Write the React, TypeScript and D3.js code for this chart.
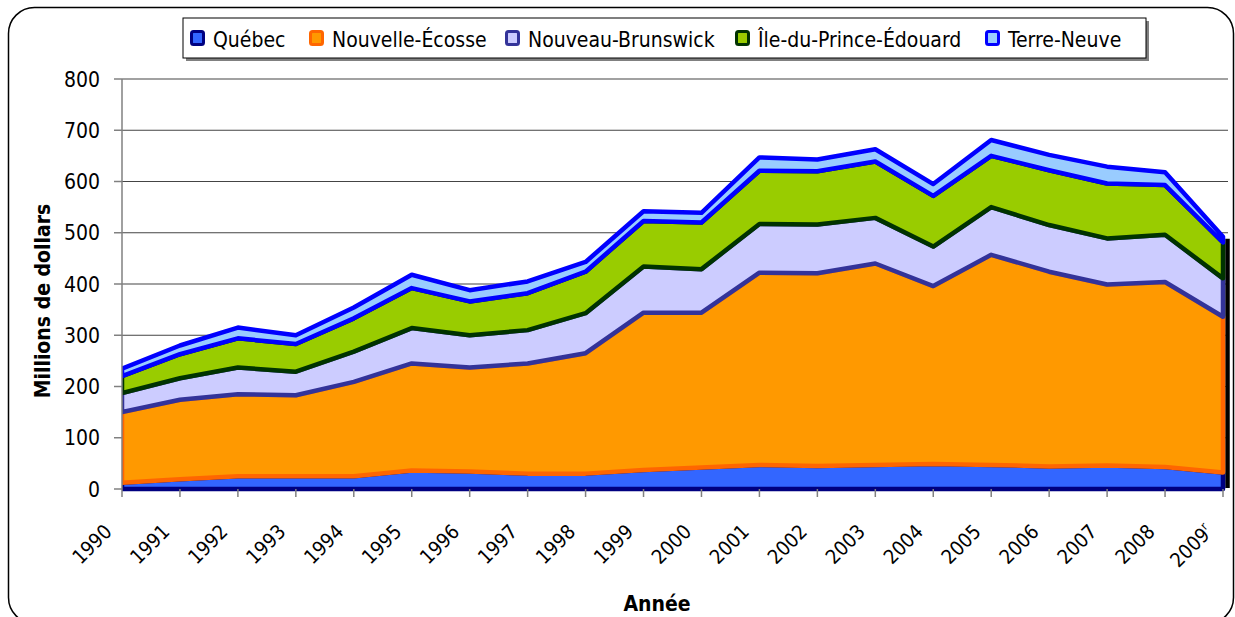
import React from 'react';
import * as d3 from 'd3';

const years = ['1990','1991','1992','1993','1994','1995','1996','1997','1998','1999','2000','2001','2002','2003','2004','2005','2006','2007','2008','2009'];
const yearLabels = ['1990','1991','1992','1993','1994','1995','1996','1997','1998','1999','2000','2001','2002','2003','2004','2005','2006','2007','2008','2009r'];
const quebec = [12,19,25,25,25,36,34,30,30,37,42,47,45,47,49,47,44,46,43,32];
const nouvelleEcosse = [138,155,160,158,184,209,203,215,235,307,302,375,376,393,347,410,380,353,361,304];
const nouveauBrunswick = [37,42,52,46,59,69,63,65,78,90,85,95,95,89,77,93,91,90,92,75];
const ilePrinceEdouard = [33,47,57,54,65,78,66,72,81,89,91,104,104,110,99,100,107,107,97,70];
const terreNeuve = [15,17,21,17,21,26,22,23,19,19,19,26,23,24,23,31,30,33,25,11];
const seriesNames = ['Québec','Nouvelle-Écosse','Nouveau-Brunswick','Île-du-Prince-Édouard','Terre-Neuve'];
const yTicks = [0,100,200,300,400,500,600,700,800];

const fills = ['#3366FF','#FF9900','#CCCCFF','#99CC00','#99CCFF'];
const strokes = ['#000080','#FF6600','#333399','#003300','#0000FF'];
const legendX = [190, 309, 505, 735, 985];

const FONT = "'DejaVu Sans Condensed', 'DejaVu Sans', sans-serif";

export default function App() {
  const L = 122, R = 1223, T = 79, B = 489;
  const x = d3.scalePoint<string>().domain(years).range([L, R]);
  const y = d3.scaleLinear().domain([0, 800]).range([B, T]);
  const seriesData = [quebec, nouvelleEcosse, nouveauBrunswick, ilePrinceEdouard, terreNeuve];
  const table = years.map((yr, i) => {
    const row: any = { year: yr };
    seriesNames.forEach((n, k) => { row[n] = seriesData[k][i]; });
    return row;
  });
  const stacked = d3.stack<any>().keys(seriesNames)(table);
  const area = d3.area<any>()
    .x((d: any) => x(d.data.year) as number)
    .y0((d: any) => y(d[0]))
    .y1((d: any) => y(d[1]));
  const top = stacked[stacked.length - 1];
  const lastTop = top[top.length - 1][1];
  const lastX = x(years[years.length - 1]) as number;

  return (
    <svg width={1235} height={617} style={{ display: 'block', position: 'absolute', left: 0, top: 0 }} fontFamily={FONT}>
      <defs>
        <clipPath id="plotclip">
          <rect x={L} y={0} width={1235 - L} height={617} />
        </clipPath>
      </defs>
      <rect x={0} y={0} width={1235} height={617} fill="#fff" />
      <rect x={8.5} y={7.5} width={1225} height={616} rx={26} ry={26} fill="none" stroke="#000" strokeWidth={1.5} />

      {/* gridlines */}
      {yTicks.filter(t => t > 0).map(t => (
        <line key={'g' + t} x1={L} x2={1228} y1={y(t)} y2={y(t)} stroke="#444" strokeWidth={1.2} />
      ))}

      {/* shadow on the right edge of the stack */}
      <line x1={lastX + 4.5} x2={lastX + 4.5} y1={y(lastTop) + 2} y2={B - 1} stroke="#000" strokeWidth={4.5} />

      <g clipPath="url(#plotclip)">
        {stacked.map((s, k) => (
          <path key={s.key} d={area(s) as string} fill={fills[k]} stroke={strokes[k]} strokeWidth={4.5} strokeLinejoin="round" />
        ))}
      </g>

      {/* y axis */}
      <line x1={L} x2={L} y1={T} y2={B} stroke="#808080" strokeWidth={1.5} />
      {yTicks.map(t => (
        <g key={'y' + t}>
          <line x1={114} x2={L} y1={y(t)} y2={y(t)} stroke="#808080" strokeWidth={1.5} />
          <text x={100} y={y(t)} dy="0.36em" textAnchor="end" fontSize={21} fill="#000">{t}</text>
        </g>
      ))}
      {/* x axis ticks */}
      {years.map((yr, i) => {
        const px = x(yr) as number;
        const lab = yearLabels[i];
        const sup = lab.length > 4 ? lab.slice(4) : '';
        return (
          <g key={'x' + yr}>
            <line x1={px} x2={px} y1={B} y2={B + 8} stroke="#808080" strokeWidth={1.5} />
            <text transform={`translate(${px - 9},${533}) rotate(-45)`} textAnchor="end" fontSize={20} fill="#000">
              {lab.slice(0, 4)}
              {sup && <tspan fontSize={12} dy={-8}>{sup}</tspan>}
            </text>
          </g>
        );
      })}

      <text transform="translate(50,301) rotate(-90)" textAnchor="middle" fontSize={21} fontWeight="bold" fill="#000">Millions de dollars</text>
      <text x={657} y={611} textAnchor="middle" fontSize={21} fontWeight="bold" fill="#000">Année</text>

      {/* legend */}
      <rect x={186} y={21} width={963} height={40} fill="#808080" />
      <rect x={183} y={18} width={963} height={40} fill="#fff" stroke="#000" strokeWidth={1} />
      {seriesNames.map((n, k) => (
        <g key={'l' + n}>
          <rect x={legendX[k] + 1.5} y={31.5} width={12} height={13} rx={2} fill={fills[k]} stroke={strokes[k]} strokeWidth={3} />
          <text x={legendX[k] + 23} y={47} fontSize={21} fill="#000">{n}</text>
        </g>
      ))}
    </svg>
  );
}
